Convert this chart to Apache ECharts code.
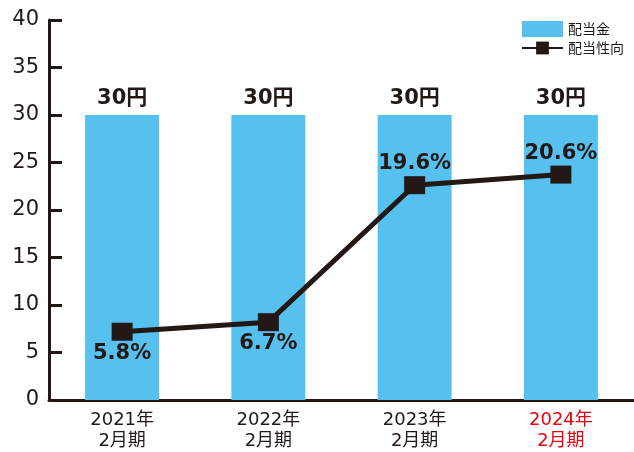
<!DOCTYPE html>
<html>
<head>
<meta charset="utf-8">
<script src="https://cdn.jsdelivr.net/npm/echarts@6/dist/echarts.min.js"></script>
<style>
  html, body { margin: 0; padding: 0; background: #fff; }
  #chart { width: 634px; height: 452px; }
</style>
</head>
<body>
<div id="chart"></div>
<script>
const categories = ['2021年\n2月期', '2022年\n2月期', '2023年\n2月期', '2024年\n2月期']
const dividends = [30, 30, 30, 30]
const payoutRatios = [5.8, 6.7, 19.6, 20.6]
const yTicks = [0, 5, 10, 15, 20, 25, 30, 35, 40]

const ink = '#231815'
const barColor = '#56c1ee'
const accent = '#e60012'
const font = "'DejaVu Sans', 'Noto Sans CJK JP', sans-serif"

const chart = echarts.init(document.getElementById('chart'))

chart.setOption({
  animation: false,
  grid: { left: 49, right: 0, top: 20, bottom: 51, containLabel: false },
  legend: {
    orient: 'vertical',
    right: 5,
    top: 16,
    itemWidth: 41,
    itemHeight: 16,
    itemGap: 4,
    textStyle: { fontFamily: "'Noto Sans CJK JP', sans-serif", fontSize: 14, color: ink },
    data: [
      { name: '配当金', icon: 'rect' },
      { name: '配当性向' },
    ],
  },
  xAxis: {
    type: 'category',
    data: categories,
    axisLine: { lineStyle: { color: ink, width: 3 } },
    axisTick: { inside: true, length: 7, lineStyle: { color: ink, width: 3 } },
    axisLabel: {
      margin: 10,
      fontFamily: font,
      fontSize: 18,
      lineHeight: 21,
      color: (v, i) => (i === categories.length - 1 ? accent : ink),
    },
  },
  yAxis: [
    {
      type: 'value',
      min: yTicks[0],
      max: yTicks[yTicks.length - 1],
      interval: 5,
      splitLine: { show: false },
      axisLine: { show: true, lineStyle: { color: ink, width: 3 } },
      axisTick: { show: true, inside: true, length: 13, lineStyle: { color: ink, width: 3 } },
      axisLabel: { margin: 10, fontFamily: font, fontSize: 21, color: ink },
    },
    {
      // hidden scale for the payout ratio line
      type: 'value',
      min: -0.63,
      max: 35.16,
      show: false,
      splitLine: { show: false },
    },
  ],
  series: [
    {
      name: '配当金',
      type: 'bar',
      data: dividends,
      barWidth: 74,
      itemStyle: { color: barColor },
      label: {
        show: true,
        position: 'top',
        distance: 6,
        formatter: '{c}円',
        fontFamily: font,
        fontSize: 21,
        fontWeight: 'bold',
        color: ink,
      },
    },
    {
      name: '配当性向',
      type: 'line',
      yAxisIndex: 1,
      data: payoutRatios.map((v, i) => ({
        value: v,
        label: { position: i < 2 ? 'bottom' : 'top' },
      })),
      symbol: 'rect',
      symbolSize: [21, 18],
      lineStyle: { color: ink, width: 5 },
      itemStyle: { color: ink },
      label: {
        show: true,
        distance: 2,
        formatter: '{c}%',
        fontFamily: font,
        fontSize: 21,
        fontWeight: 'bold',
        color: ink,
      },
      z: 5,
    },
  ],
})
</script>
</body>
</html>
